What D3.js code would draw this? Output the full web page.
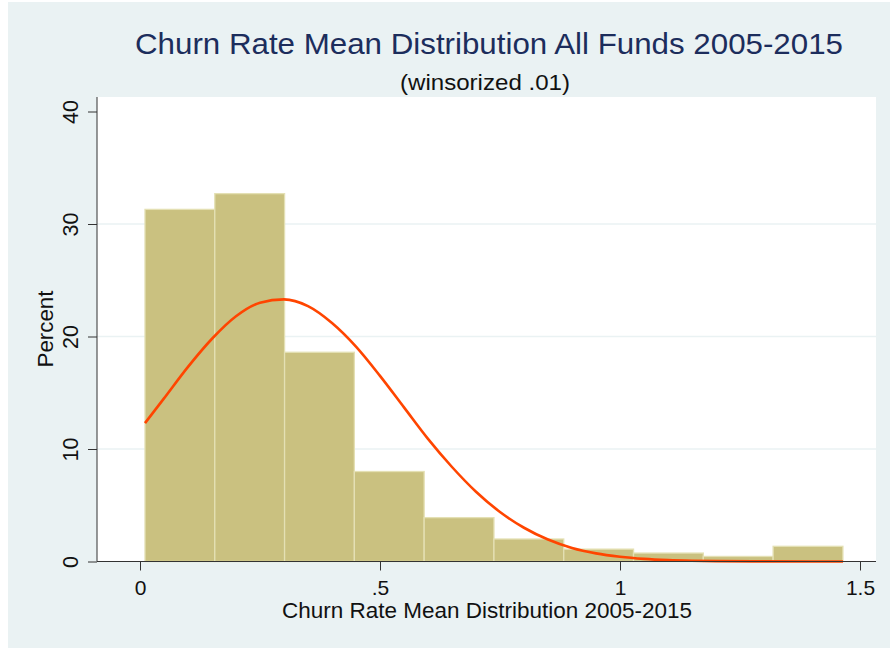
<!DOCTYPE html>
<html>
<head>
<meta charset="utf-8">
<script src="https://cdn.jsdelivr.net/npm/d3@7"></script>
<style>
  body { margin: 0; background: #ffffff; }
  svg { display: block; }
</style>
</head>
<body>
<svg id="chart"></svg>
<script>
// histogram bins (left edge, right edge) and heights in percent
let binStart = 0.0104
let binWidth = 0.1454
let binPercent = [31.3, 32.7, 18.6, 8.0, 3.9, 2.0, 1.1, 0.75, 0.45, 1.35]

// normal overlay
let curveX = [0.0104, 0.05, 0.10, 0.15, 0.20, 0.25, 0.30, 0.35, 0.40, 0.45, 0.50, 0.55, 0.60, 0.65, 0.70, 0.75, 0.80, 0.85, 0.90, 0.95, 1.00, 1.05, 1.10, 1.15, 1.20, 1.30, 1.40, 1.4646]
let curveY = [12.3, 14.5, 17.3, 19.8, 21.8, 23.0, 23.3, 22.7, 21.2, 19.1, 16.5, 13.7, 10.9, 8.4, 6.2, 4.4, 3.0, 1.95, 1.2, 0.72, 0.42, 0.23, 0.12, 0.06, 0.03, 0.01, 0.0, 0.0]

let xTicks = [0, 0.5, 1, 1.5]
let xTickLabels = ["0", ".5", "1", "1.5"]
let yTicks = [0, 10, 20, 30, 40]
let yGrid = [10, 20, 30]

let title = "Churn Rate Mean Distribution All Funds 2005-2015"
let subtitle = "(winsorized .01)"
let xTitle = "Churn Rate Mean Distribution 2005-2015"
let yTitle = "Percent"

let width = 890
let height = 648
let font = "'Liberation Sans', Arial, sans-serif"
let svg = d3.select("#chart").attr("width", width).attr("height", height)

// outer graph region
svg.append("rect")
    .attr("x", 8).attr("y", 2)
    .attr("width", width - 8).attr("height", height - 2)
    .attr("fill", "#eaf2f3")

let plot = {left: 97, right: 876, top: 97, bottom: 561.5}

let x = d3.scaleLinear().domain([0, 1.5]).range([140, 860])
let y = d3.scaleLinear().domain([0, 40]).range([561.5, 111.5])

svg.append("rect")
    .attr("x", plot.left).attr("y", plot.top)
    .attr("width", plot.right - plot.left).attr("height", plot.bottom - plot.top)
    .attr("fill", "#ffffff")

svg.selectAll(".grid").data(yGrid)
    .enter().append("line")
    .attr("x1", plot.left).attr("x2", plot.right)
    .attr("y1", d => y(d)).attr("y2", d => y(d))
    .attr("stroke", "#eaf2f3")
    .attr("stroke-width", 1.5)

// bars
svg.selectAll(".bar").data(binPercent)
    .enter().append("rect")
    .attr("x", (d, i) => x(binStart + i * binWidth))
    .attr("width", x(binWidth) - x(0))
    .attr("y", d => y(d))
    .attr("height", d => y(0) - y(d))
    .attr("fill", "#cac180")
    .attr("stroke", "#e4e0b4")
    .attr("stroke-width", 1.3)

// normal curve
let line = d3.line()
    .x((d, i) => x(curveX[i]))
    .y(d => y(d))
    .curve(d3.curveMonotoneX)
svg.append("path")
    .attr("d", line(curveY))
    .attr("fill", "none")
    .attr("stroke", "#ff4500")
    .attr("stroke-width", 2.6)

// y axis
let yAxis = svg.append("g")
    .attr("transform", `translate(${plot.left},0)`)
    .call(d3.axisLeft(y).tickValues(yTicks).tickSize(9).tickFormat(d3.format("d")))
yAxis.select(".domain").attr("d", `M0,${plot.top}V${plot.bottom}`).attr("stroke", "#333")
yAxis.selectAll(".tick line").attr("stroke", "#333")
yAxis.selectAll(".tick text")
    .attr("font-family", font).attr("font-size", 21.5).attr("fill", "#111")
    .attr("transform", "rotate(-90)")
    .attr("x", 0).attr("y", -19).attr("dy", 0)
    .attr("text-anchor", "middle")

// x axis
let xAxis = svg.append("g")
    .attr("transform", `translate(0,${plot.bottom})`)
    .call(d3.axisBottom(x).tickValues(xTicks).tickSize(9).tickFormat((d, i) => xTickLabels[i]))
xAxis.select(".domain").attr("d", `M${plot.left},0H${plot.right}`).attr("stroke", "#333")
xAxis.selectAll(".tick line").attr("stroke", "#333")
xAxis.selectAll(".tick text")
    .attr("font-family", font).attr("font-size", 21).attr("fill", "#111")
    .attr("y", 19)

// titles
svg.append("text")
    .attr("x", 489).attr("y", 54)
    .attr("text-anchor", "middle")
    .attr("font-family", font).attr("font-size", 30)
    .attr("textLength", 708).attr("lengthAdjust", "spacingAndGlyphs")
    .attr("fill", "#1c2d5c")
    .text(title)

svg.append("text")
    .attr("x", 485).attr("y", 90)
    .attr("text-anchor", "middle")
    .attr("font-family", font).attr("font-size", 22.5)
    .attr("textLength", 170).attr("lengthAdjust", "spacingAndGlyphs")
    .attr("fill", "#111")
    .text(subtitle)

svg.append("text")
    .attr("x", 487).attr("y", 618)
    .attr("text-anchor", "middle")
    .attr("font-family", font).attr("font-size", 21.5)
    .attr("textLength", 410).attr("lengthAdjust", "spacingAndGlyphs")
    .attr("fill", "#111")
    .text(xTitle)

svg.append("text")
    .attr("transform", "translate(53,329) rotate(-90)")
    .attr("text-anchor", "middle")
    .attr("font-family", font).attr("font-size", 22)
    .attr("textLength", 77).attr("lengthAdjust", "spacingAndGlyphs")
    .attr("fill", "#111")
    .text(yTitle)
</script>
</body>
</html>
